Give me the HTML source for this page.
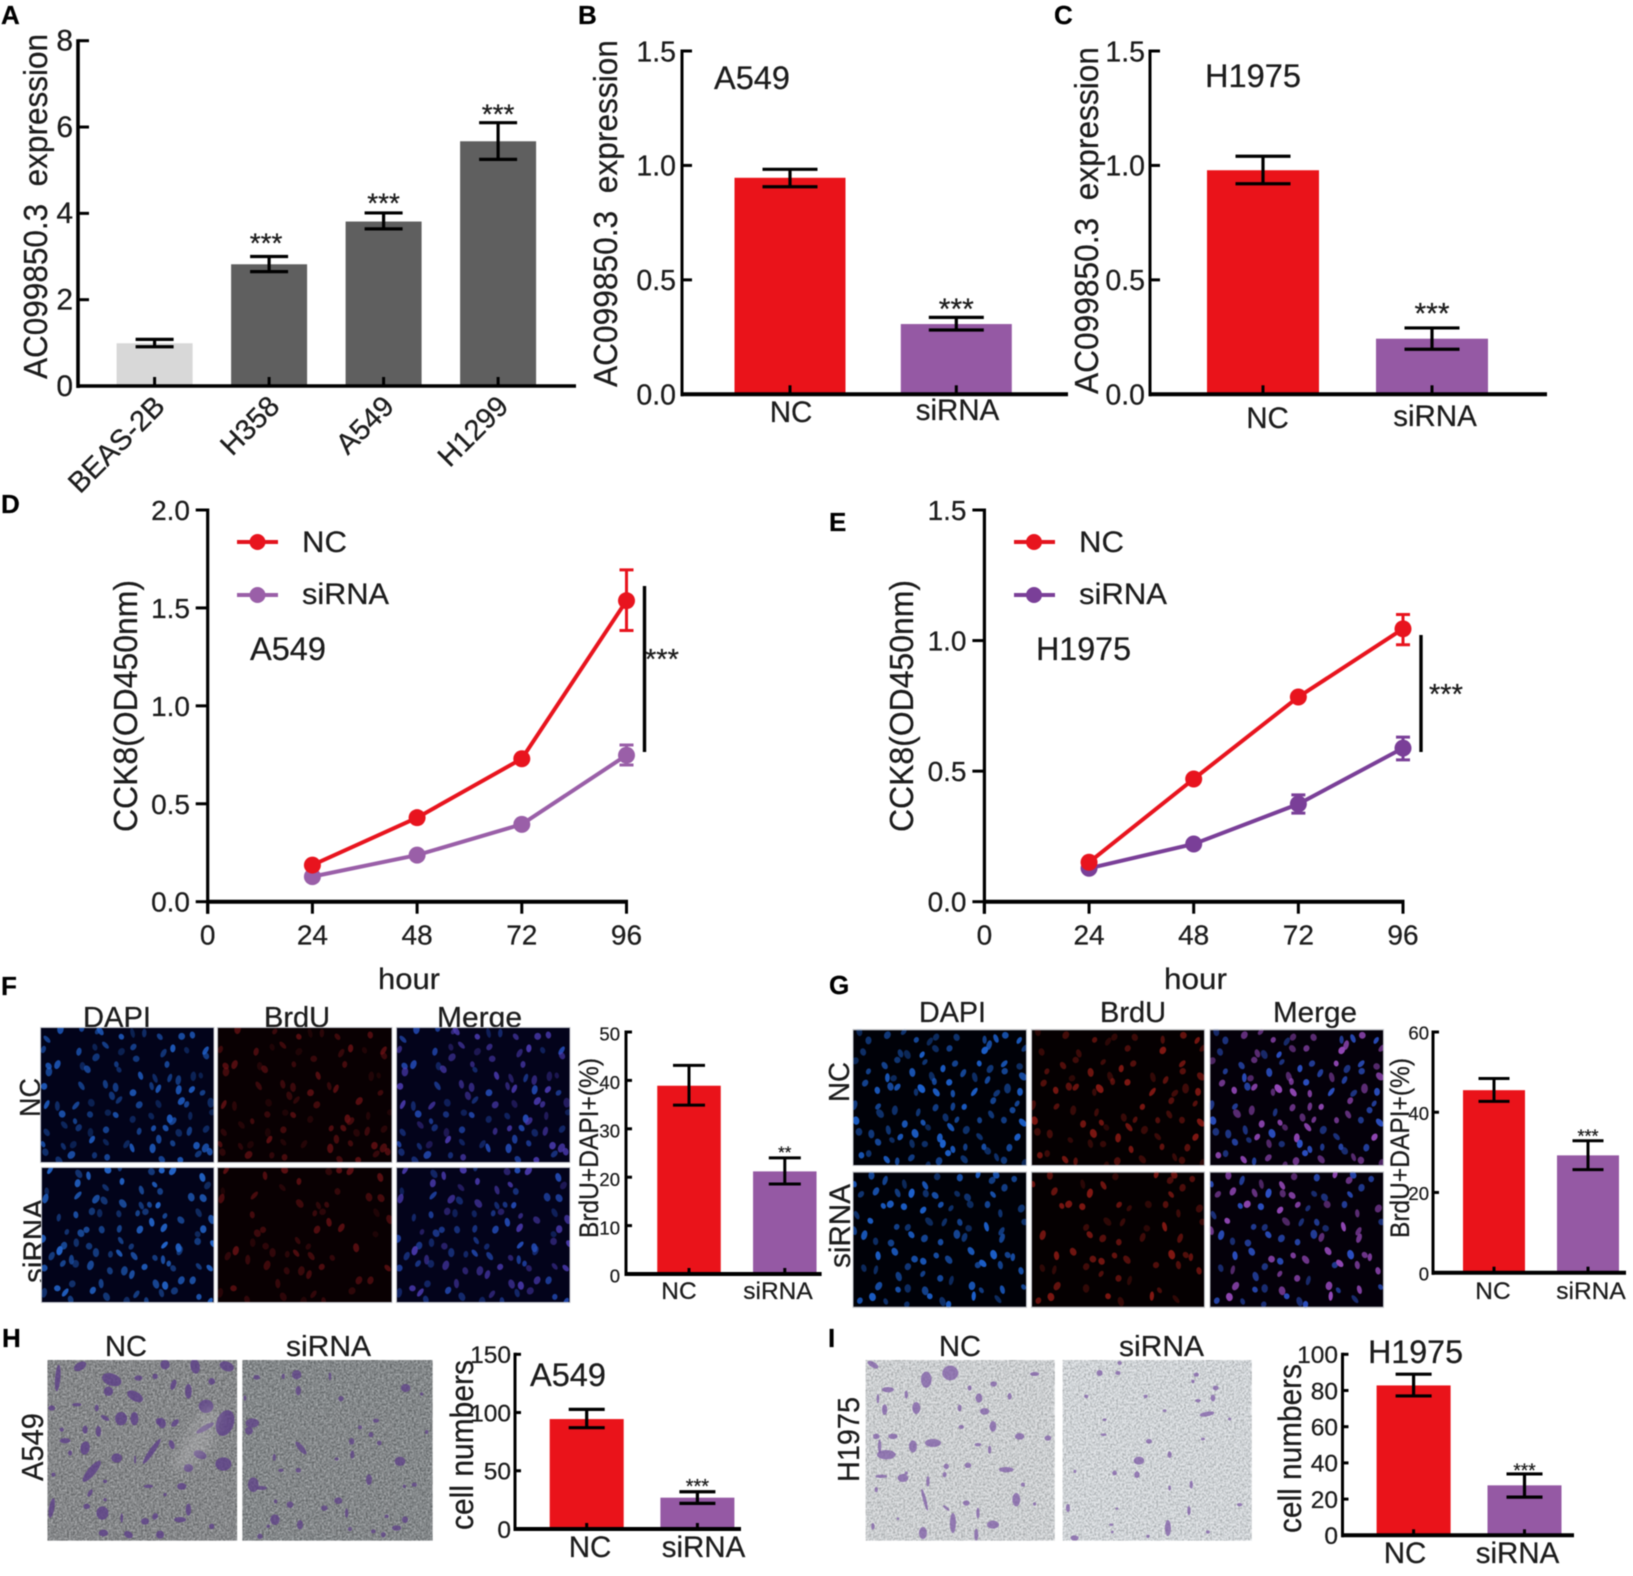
<!DOCTYPE html>
<html lang="en">
<head>
<meta charset="utf-8">
<title>AC099850.3 expression, CCK8, BrdU and transwell figure</title>
<style>
html,body{margin:0;padding:0;background:#fff;}
svg{display:block;}
text{font-family:"Liberation Sans",Arial,sans-serif;fill:#1c1c1c;stroke:#1c1c1c;stroke-width:0.25px;}
.pl{font-weight:bold;font-size:26px;fill:#000;stroke:#000;}
</style>
</head>
<body>
<svg xmlns="http://www.w3.org/2000/svg" width="1633" height="1576" viewBox="0 0 1633 1576">
<defs>
<filter id="grain-dark" x="0" y="0" width="100%" height="100%" color-interpolation-filters="sRGB">
<feTurbulence type="fractalNoise" baseFrequency="0.5" numOctaves="2" seed="4"/>
<feColorMatrix values="1.6 0 0 0 -0.26  1.6 0 0 0 -0.26  1.6 0 0 0 -0.26  0 0 0 0 1"/>
</filter>
<filter id="grain-light" x="0" y="0" width="100%" height="100%" color-interpolation-filters="sRGB">
<feTurbulence type="fractalNoise" baseFrequency="0.5" numOctaves="2" seed="9"/>
<feColorMatrix values="1.3 0 0 0 0.14  1.3 0 0 0 0.16  1.3 0 0 0 0.16  0 0 0 0 1"/>
</filter>
<filter id="patch-blur" x="-30%" y="-30%" width="160%" height="160%"><feGaussianBlur stdDeviation="6"/></filter>
</defs>
<rect width="1633" height="1576" fill="#fff"/>
<g id="root" style="filter:blur(0.45px)">

<g>
<text class="pl" x="1" y="24">A</text>
<text class="pl" x="578" y="24">B</text>
<text class="pl" x="1054" y="24">C</text>
<text class="pl" x="1" y="513">D</text>
<text class="pl" x="829" y="531">E</text>
<text class="pl" x="1" y="995">F</text>
<text class="pl" x="829" y="994">G</text>
<text class="pl" x="2" y="1347">H</text>
<text class="pl" x="828" y="1347">I</text>
</g>

<g>
<text transform="translate(47,379) rotate(-90)" font-size="33" textLength="345" lengthAdjust="spacingAndGlyphs" xml:space="preserve">AC099850.3  expression</text>
<text transform="translate(617,387) rotate(-90)" font-size="33" textLength="347" lengthAdjust="spacingAndGlyphs" xml:space="preserve">AC099850.3  expression</text>
<text transform="translate(1098,394) rotate(-90)" font-size="33" textLength="347" lengthAdjust="spacingAndGlyphs" xml:space="preserve">AC099850.3  expression</text>
<text transform="translate(137,832) rotate(-90)" font-size="33" textLength="252" lengthAdjust="spacingAndGlyphs">CCK8(OD450nm)</text>
<text transform="translate(913,832) rotate(-90)" font-size="33" textLength="252" lengthAdjust="spacingAndGlyphs">CCK8(OD450nm)</text>
<text x="378" y="989" font-size="30" textLength="62" lengthAdjust="spacingAndGlyphs">hour</text>
<text x="1164" y="989" font-size="30" textLength="63" lengthAdjust="spacingAndGlyphs">hour</text>
<text transform="translate(598,1238) rotate(-90)" font-size="27" textLength="180" lengthAdjust="spacingAndGlyphs">BrdU+DAPI+(%)</text>
<text transform="translate(1409,1238) rotate(-90)" font-size="27" textLength="180" lengthAdjust="spacingAndGlyphs">BrdU+DAPI+(%)</text>
<text transform="translate(473,1530) rotate(-90)" font-size="32" textLength="170" lengthAdjust="spacingAndGlyphs">cell numbers</text>
<text transform="translate(1301,1533) rotate(-90)" font-size="32" textLength="169" lengthAdjust="spacingAndGlyphs">cell numbers</text>
</g>

<g>
<text x="714" y="89" font-size="32" textLength="76" lengthAdjust="spacingAndGlyphs">A549</text>
<text x="1205" y="87" font-size="32" textLength="96" lengthAdjust="spacingAndGlyphs">H1975</text>
<text x="250" y="660" font-size="32" textLength="76" lengthAdjust="spacingAndGlyphs">A549</text>
<text x="1036" y="660" font-size="32" textLength="95" lengthAdjust="spacingAndGlyphs">H1975</text>
<text x="530" y="1386" font-size="32" textLength="76" lengthAdjust="spacingAndGlyphs">A549</text>
<text x="1368" y="1363" font-size="32" textLength="95" lengthAdjust="spacingAndGlyphs">H1975</text>
</g>

<g>
<g><line x1="237" x2="278" y1="542" y2="542" stroke="#e3141e" stroke-width="4"/><circle cx="257.5" cy="542" r="8" fill="#e8141e"/><text x="302" y="552" font-size="30" textLength="45" lengthAdjust="spacingAndGlyphs">NC</text></g>
<g><line x1="237" x2="278" y1="595" y2="595" stroke="#9a5fa8" stroke-width="4"/><circle cx="257.5" cy="595" r="8" fill="#9a5fa8"/><text x="302" y="604" font-size="30" textLength="87" lengthAdjust="spacingAndGlyphs">siRNA</text></g>
</g>
<g>
<g><line x1="1014" x2="1055" y1="542" y2="542" stroke="#e3141e" stroke-width="4"/><circle cx="1034" cy="542" r="8" fill="#e8141e"/><text x="1079" y="552" font-size="30" textLength="45" lengthAdjust="spacingAndGlyphs">NC</text></g>
<g><line x1="1014" x2="1055" y1="595" y2="595" stroke="#7a3f98" stroke-width="4"/><circle cx="1034" cy="595" r="8" fill="#7a3f98"/><text x="1079" y="604" font-size="30" textLength="88" lengthAdjust="spacingAndGlyphs">siRNA</text></g>
</g>

<g>
<line x1="644.5" x2="644.5" y1="586" y2="752" stroke="#000" stroke-width="3.4"/>
<text x="645" y="669" font-size="29">***</text>
<line x1="1421" x2="1421" y1="635" y2="752" stroke="#000" stroke-width="3.4"/>
<text x="1429" y="704" font-size="29">***</text>
</g>

<g>
<text x="83" y="1027" font-size="29" textLength="68" lengthAdjust="spacingAndGlyphs">DAPI</text>
<text x="264" y="1027" font-size="29" textLength="66" lengthAdjust="spacingAndGlyphs">BrdU</text>
<text x="437" y="1027" font-size="29" textLength="85" lengthAdjust="spacingAndGlyphs">Merge</text>
<text transform="translate(40,1117) rotate(-90)" font-size="29" textLength="39" lengthAdjust="spacingAndGlyphs">NC</text>
<text transform="translate(44,1283) rotate(-90)" font-size="30" textLength="84" lengthAdjust="spacingAndGlyphs">siRNA</text>
<text x="919" y="1022" font-size="29" textLength="67" lengthAdjust="spacingAndGlyphs">DAPI</text>
<text x="1100" y="1022" font-size="29" textLength="66" lengthAdjust="spacingAndGlyphs">BrdU</text>
<text x="1273" y="1022" font-size="29" textLength="84" lengthAdjust="spacingAndGlyphs">Merge</text>
<text transform="translate(849,1102) rotate(-90)" font-size="29" textLength="40" lengthAdjust="spacingAndGlyphs">NC</text>
<text transform="translate(850,1268) rotate(-90)" font-size="30" textLength="84" lengthAdjust="spacingAndGlyphs">siRNA</text>
<text x="105" y="1356" font-size="29" textLength="42" lengthAdjust="spacingAndGlyphs">NC</text>
<text x="286" y="1356" font-size="29" textLength="85" lengthAdjust="spacingAndGlyphs">siRNA</text>
<text transform="translate(43,1481) rotate(-90)" font-size="31" textLength="68" lengthAdjust="spacingAndGlyphs">A549</text>
<text x="939" y="1356" font-size="29" textLength="42" lengthAdjust="spacingAndGlyphs">NC</text>
<text x="1119" y="1356" font-size="29" textLength="85" lengthAdjust="spacingAndGlyphs">siRNA</text>
<text transform="translate(859,1482) rotate(-90)" font-size="31" textLength="85" lengthAdjust="spacingAndGlyphs">H1975</text>
</g>

<g id="micrographs"></g>
<g id="charts"></g>
</g>
</svg>

<script>
/* ---------- Panel A ---------- */
const aCategories = ['BEAS-2B', 'H358', 'A549', 'H1299'];
const aValues = [0.99, 2.82, 3.81, 5.67];
const aErrHigh = [1.08, 3.0, 4.01, 6.1];
const aErrLow = [0.91, 2.65, 3.64, 5.25];
const aStars = ['', '***', '***', '***'];
const aTickLabels = ['0', '2', '4', '6', '8'];
/* ---------- Panel B ---------- */
const bCategories = ['NC', 'siRNA'];
const bValues = [0.946, 0.307];
const bErrHigh = [0.983, 0.336];
const bErrLow = [0.907, 0.281];
const bStars = ['', '***'];
const bTickLabels = ['0.0', '0.5', '1.0', '1.5'];
/* ---------- Panel C ---------- */
const cCategories = ['NC', 'siRNA'];
const cValues = [0.979, 0.243];
const cErrHigh = [1.04, 0.29];
const cErrLow = [0.92, 0.197];
const cStars = ['', '***'];
const cTickLabels = ['0.0', '0.5', '1.0', '1.5'];
/* ---------- Panel D ---------- */
const dHours = ['24', '48', '72', '96'];
const dTickLabelsX = ['0', '24', '48', '72', '96'];
const dTickLabelsY = ['0.0', '0.5', '1.0', '1.5', '2.0'];
const dNc = [0.187, 0.429, 0.73, 1.537];
const dNcHigh = [0.19, 0.432, 0.733, 1.694];
const dNcLow = [0.184, 0.426, 0.727, 1.385];
const dSirna = [0.128, 0.238, 0.395, 0.748];
const dSirnaHigh = [0.131, 0.241, 0.398, 0.8];
const dSirnaLow = [0.125, 0.235, 0.392, 0.698];
/* ---------- Panel E ---------- */
const eHours = ['24', '48', '72', '96'];
const eTickLabelsX = ['0', '24', '48', '72', '96'];
const eTickLabelsY = ['0.0', '0.5', '1.0', '1.5'];
const eNc = [0.151, 0.47, 0.784, 1.045];
const eNcHigh = [0.154, 0.473, 0.787, 1.1];
const eNcLow = [0.148, 0.467, 0.781, 0.984];
const eSirna = [0.128, 0.221, 0.374, 0.588];
const eSirnaHigh = [0.131, 0.224, 0.409, 0.63];
const eSirnaLow = [0.125, 0.218, 0.339, 0.543];
/* ---------- Panel F ---------- */
const fCategories = ['NC', 'siRNA'];
const fValues = [38.9, 21.2];
const fErrHigh = [43.1, 24];
const fErrLow = [34.9, 18.6];
const fStars = ['', '**'];
const fTickLabels = ['0', '10', '20', '30', '40', '50'];
/* ---------- Panel G ---------- */
const gCategories = ['NC', 'siRNA'];
const gValues = [45.5, 29.25];
const gErrHigh = [48.4, 32.9];
const gErrLow = [42.7, 25.7];
const gStars = ['', '***'];
const gTickLabels = ['0', '20', '40', '60'];
/* ---------- Panel H ---------- */
const hCategories = ['NC', 'siRNA'];
const hValues = [94.4, 26.9];
const hErrHigh = [102.7, 32];
const hErrLow = [87, 22];
const hStars = ['', '***'];
const hTickLabels = ['0', '50', '100', '150'];
/* ---------- Panel I ---------- */
const iCategories = ['NC', 'siRNA'];
const iValues = [82.8, 27.6];
const iErrHigh = [89, 33.9];
const iErrLow = [77, 21.1];
const iStars = ['', '***'];
const iTickLabels = ['0', '20', '40', '60', '80', '100'];

const NS = 'http://www.w3.org/2000/svg';
function mk(tag, parent, geom) {
  const el = document.createElementNS(NS, tag);
  for (const k in geom) el.setAttribute(k, geom[k]);
  parent.appendChild(el);
  return el;
}
function mkLine(parent, x1, y1, x2, y2, color, w) {
  return mk('line', parent, { x1: x1, y1: y1, x2: x2, y2: y2, stroke: color, 'stroke-width': w });
}
function mkText(parent, str, x, y, size, anchor) {
  const t = mk('text', parent, { x: x, y: y, 'font-size': size, 'text-anchor': anchor });
  t.textContent = str;
  return t;
}

function drawBarChart(name, cats, vals, hi, lo, stars, ticks, L) {
  const host = document.getElementById('charts');
  const g = mk('g', host, {});
  
  
  const maxV = Number(ticks[ticks.length - 1]);
  const yScale = v => L.base - (v / maxV) * (L.base - L.top);
  const xScale = i => L.firstX + i * L.stepX;

  cats.forEach((c, i) => {
    const col = L.colors[i];
    const r = mk('rect', g, { x: xScale(i) - L.barW / 2, y: yScale(vals[i]), width: L.barW, height: L.base - yScale(vals[i]), fill: col });
    
    

    const stem = mkLine(g, xScale(i), yScale(hi[i]), xScale(i), yScale(lo[i]), '#000', L.errW);
    
    
    const capTop = mkLine(g, xScale(i) - L.capW / 2, yScale(hi[i]), xScale(i) + L.capW / 2, yScale(hi[i]), '#000', L.errW);
    
    
    const capLow = mkLine(g, xScale(i) - L.capW / 2, yScale(lo[i]), xScale(i) + L.capW / 2, yScale(lo[i]), '#000', L.errW);
    
    

    const tick = mkLine(g, xScale(i), L.base, xScale(i), L.base - L.tickXIn, '#000', 3);
    
    

    if (stars[i]) {
      const s = mkText(g, stars[i], xScale(i) + (L.starDx ? L.starDx[i] : 0), yScale(hi[i]) - L.starGap[i] + 0.42 * L.starFont, L.starFont, 'middle');
      
      
    }

    let lab;
    if (L.rotateCats) {
      lab = mkText(g, c, 0, 0, L.catFont, 'end');
      lab.setAttribute('transform', 'translate(' + (xScale(i) + L.catDx) + ',' + L.catY[i] + ') rotate(-45)');
    } else {
      lab = mkText(g, c, L.catX[i], L.catY[i], L.catFont, 'middle');
    }
    
    
  });

  const yAxis = mkLine(g, L.axisX, L.top - 1.5, L.axisX, L.base + 2, '#000', L.axisW);
  
  
  const xAxis = mkLine(g, L.axisX - 1, L.base, L.xEnd, L.base, '#000', L.baseW);
  
  

  ticks.forEach(t => {
    const v = Number(t);
    const tl = mkLine(g, L.axisX, yScale(v), L.axisX + L.tickYIn, yScale(v), '#000', 3);
    
    
    const lb = mkText(g, t, L.labelRight, yScale(v) + 0.36 * L.tickFont + (L.labelDy || 0), L.tickFont, 'end');
    
    
  });
}

function drawLineChart(name, hours, xLabels, yLabels, series, L) {
  const host = document.getElementById('charts');
  const g = mk('g', host, {});
  
  
  const maxY = Number(yLabels[yLabels.length - 1]);
  const maxX = Number(xLabels[xLabels.length - 1]);
  const yScale = v => L.base - (v / maxY) * (L.base - L.top);
  const xScale = h => L.axisX + (h / maxX) * (L.xEnd - L.axisX);

  series.forEach(s => {
    const poly = mk('polyline', g, { fill: 'none', stroke: s.color, 'stroke-width': 4,
      points: hours.map((h, i) => xScale(Number(h)) + ',' + yScale(s.vals[i])).join(' ') });
    
    
    hours.forEach((h, i) => {
      const x = xScale(Number(h));
      const err = mk('path', g, { fill: 'none', stroke: s.color, 'stroke-width': 3,
        d: 'M' + (x - 7) + ' ' + yScale(s.hi[i]) + 'H' + (x + 7) + 'M' + x + ' ' + yScale(s.hi[i]) + 'V' + yScale(s.lo[i]) + 'M' + (x - 7) + ' ' + yScale(s.lo[i]) + 'H' + (x + 7) });
      
      
      const p = mk('circle', g, { cx: x, cy: yScale(s.vals[i]), r: 8.5, fill: s.color });
      
      
    });
  });

  const yAxis = mkLine(g, L.axisX, L.top - 1.5, L.axisX, L.base + 12, '#000', 3.2);
  
  
  const xAxis = mkLine(g, L.axisX, L.base, L.xEnd + 1.5, L.base, '#000', 4);
  
  

  yLabels.forEach(t => {
    const v = Number(t);
    const tick = mkLine(g, L.axisX - 12, yScale(v), L.axisX, yScale(v), '#000', 3);
    
    
    const lb = mkText(g, t, L.labelRight, yScale(v) + 10, 28, 'end');
    
    
  });
  xLabels.forEach(t => {
    const x = xScale(Number(t));
    const tick = mkLine(g, x, L.base, x, L.base + 12, '#000', 3);
    
    
    const lb = mkText(g, t, x, L.tickBaseline, 28, 'middle');
    
    
  });
}

const RED = '#ea131a';
const PURPLE = '#9559a4';

drawBarChart('panel-a-bar-chart', aCategories, aValues, aErrHigh, aErrLow, aStars, aTickLabels, {
  axisX: 78, top: 40.7, base: 386, xEnd: 576, firstX: 154.6, stepX: 114.5, barW: 76, capW: 38, errW: 3.2,
  axisW: 3.6, baseW: 3.6, tickYIn: 11, tickXIn: 9, labelRight: 73, tickFont: 30, labelDy: -1, colors: ['#d8d8d8', '#5f5f5f', '#5f5f5f', '#5f5f5f'],
  starFont: 28, starGap: [0, 16, 12, 11], starDx: [0, -3, 0, 0], rotateCats: true, catDx: 12, catY: [408, 408, 408, 408], catFont: 29
});
drawBarChart('panel-b-bar-chart', bCategories, bValues, bErrHigh, bErrLow, bStars, bTickLabels, {
  axisX: 682, top: 51, base: 394.3, xEnd: 1068, firstX: 790, stepX: 166.3, barW: 111, capW: 55, errW: 3.2,
  axisW: 3, baseW: 4, tickYIn: 10, tickXIn: 9, labelRight: 676, tickFont: 28.5, colors: [RED, PURPLE],
  starFont: 30, starGap: [0, 11], catX: [791, 957.5], catY: [422, 420], catFont: 29.5
});
drawBarChart('panel-c-bar-chart', cCategories, cValues, cErrHigh, cErrLow, cStars, cTickLabels, {
  axisX: 1150, top: 51, base: 394.3, xEnd: 1547, firstX: 1263, stepX: 169, barW: 112, capW: 55, errW: 3.2,
  axisW: 3, baseW: 4, tickYIn: 10, tickXIn: 9, labelRight: 1145, tickFont: 28.5, colors: [RED, PURPLE],
  starFont: 30, starGap: [0, 17], catX: [1267.5, 1435], catY: [428, 426], catFont: 29.5
});

drawLineChart('panel-d-line-chart', dHours, dTickLabelsX, dTickLabelsY, [
  { id: 'sirna', color: '#9a5fa8', vals: dSirna, hi: dSirnaHigh, lo: dSirnaLow },
  { id: 'nc', color: '#e8141e', vals: dNc, hi: dNcHigh, lo: dNcLow }
], { axisX: 207.7, top: 510, base: 901.7, xEnd: 626.5, labelRight: 190, tickBaseline: 944.5 });
drawLineChart('panel-e-line-chart', eHours, eTickLabelsX, eTickLabelsY, [
  { id: 'sirna', color: '#7a3f98', vals: eSirna, hi: eSirnaHigh, lo: eSirnaLow },
  { id: 'nc', color: '#e8141e', vals: eNc, hi: eNcHigh, lo: eNcLow }
], { axisX: 984.4, top: 510, base: 901.7, xEnd: 1403, labelRight: 966.5, tickBaseline: 944.5 });

drawBarChart('panel-f-bar-chart', fCategories, fValues, fErrHigh, fErrLow, fStars, fTickLabels, {
  axisX: 626, top: 1032, base: 1274, xEnd: 821.6, firstX: 689, stepX: 95.8, barW: 63.5, capW: 32, errW: 3,
  axisW: 3, baseW: 4, tickYIn: 6, tickXIn: 6, labelRight: 620, tickFont: 18.5, labelDy: 2, colors: [RED, PURPLE],
  starFont: 17, starGap: [0, 7], catX: [679, 778], catY: [1299, 1299], catFont: 24.5
});
drawBarChart('panel-g-bar-chart', gCategories, gValues, gErrHigh, gErrLow, gStars, gTickLabels, {
  axisX: 1433, top: 1032, base: 1272.7, xEnd: 1626, firstX: 1494, stepX: 94, barW: 62, capW: 31, errW: 3,
  axisW: 3, baseW: 4, tickYIn: 6, tickXIn: 6, labelRight: 1429, tickFont: 18.5, labelDy: 1, colors: [RED, PURPLE],
  starFont: 18, starGap: [0, 6], catX: [1493, 1591], catY: [1299, 1299], catFont: 24.5
});
drawBarChart('panel-h-bar-chart', hCategories, hValues, hErrHigh, hErrLow, hStars, hTickLabels, {
  axisX: 515, top: 1354.3, base: 1529, xEnd: 741, firstX: 586.7, stepX: 110.7, barW: 74, capW: 36, errW: 3.2,
  axisW: 3, baseW: 4, tickYIn: 6, tickXIn: 6, labelRight: 511, tickFont: 24.5, colors: [RED, PURPLE],
  starFont: 20, starGap: [0, 7], catX: [590, 703.5], catY: [1557, 1557], catFont: 29.5
});
drawBarChart('panel-i-bar-chart', iCategories, iValues, iErrHigh, iErrLow, iStars, iTickLabels, {
  axisX: 1342.5, top: 1354.3, base: 1535.3, xEnd: 1574, firstX: 1413.6, stepX: 110.9, barW: 74, capW: 36, errW: 3.2,
  axisW: 3, baseW: 4, tickYIn: 6, tickXIn: 6, labelRight: 1338, tickFont: 24.5, colors: [RED, PURPLE],
  starFont: 19, starGap: [0, 5], catX: [1405, 1517.5], catY: [1563, 1563], catFont: 29.5
});
</script>

<script>
/* Decorative micrograph artwork only: photographic panels, not chart data. */
(function () {
  const NS2 = 'http://www.w3.org/2000/svg';
  function el(tag, parent, geom) {
    const e = document.createElementNS(NS2, tag);
    for (const k in geom) e.setAttribute(k, geom[k]);
    parent.appendChild(e);
    return e;
  }
  function hashNoise(seed) {
    let s = seed >>> 0;
    return function () {
      s = (s * 1664525 + 1013904223) >>> 0;
      return ((s >>> 8) & 65535) / 65535;
    };
  }
  function makeFrame(name, x, y, w, h) {
    const host = document.getElementById('micrographs');
    const frame = el('svg', host, { x: x, y: y, width: w, height: h, viewBox: '0 0 ' + w + ' ' + h });
    
    
    return frame;
  }
  function border(f, w, h) {
    el('rect', f, { x: 0.5, y: 0.5, width: w - 1, height: h - 1, fill: 'none', stroke: '#c4c6cc', 'stroke-width': 1 });
  }
  function fluorescence(name, x, y, w, h, bg, colorA, colorB, mixB, seed, count, keepFrac, minOp, maxOp) {
    const f = makeFrame(name, x, y, w, h);
    el('rect', f, { width: w, height: h, fill: bg });
    const rnd = hashNoise(seed);
    const cols = Math.round(Math.sqrt(count * w / h));
    const rows = Math.round(count / cols);
    for (let r = 0; r < rows; r++) {
      for (let c = 0; c < cols; c++) {
        const cx = (c + 0.5 + (rnd() - 0.5) * 0.9) * w / cols;
        const cy = (r + 0.5 + (rnd() - 0.5) * 0.9) * h / rows;
        const rx = 2.1 + rnd() * 1.3;
        const ry = 3.0 + rnd() * 2.0;
        const ang = (rnd() - 0.5) * 90;
        const op = minOp + rnd() * (maxOp - minOp);
        const pick = rnd();
        const keep = rnd();
        if (keep > keepFrac) continue;
        el('ellipse', f, { cx: cx, cy: cy, rx: rx, ry: ry, fill: pick < mixB ? colorB : colorA, opacity: op,
          transform: 'rotate(' + ang + ' ' + cx + ' ' + cy + ')' });
      }
    }
    border(f, w, h);
  }
  function transwell(name, x, y, w, h, grainId, tint, noiseOp, cellColor, blobOp, ox, oy, blobs) {
    const f = makeFrame(name, x, y, w, h);
    el('rect', f, { width: w, height: h, fill: tint });
    el('rect', f, { width: w, height: h, filter: 'url(#' + grainId + ')', opacity: noiseOp });
    blobs.forEach(b => {
      const cx = (b[0] - ox) / 3;
      const cy = (b[1] - oy) / 3;
      const a = b[4] || 0;
      el('ellipse', f, { cx: cx, cy: cy, rx: b[2] / 3, ry: b[3] / 3, fill: cellColor, opacity: blobOp,
        transform: 'rotate(' + a + ' ' + cx + ' ' + cy + ')' });
    });
    return f;
  }

  fluorescence('panel-f-nc-dapi-image', 40, 1027, 174.5, 136, '#02031a', '#2060c8', '#2060c8', 0, 71, 120, 0.85, 0.3, 0.9);
  fluorescence('panel-f-nc-brdu-image', 217, 1027, 175.5, 136, '#090002', '#701216', '#701216', 0, 71, 120, 0.6, 0.2, 0.8);
  fluorescence('panel-f-nc-merge-image', 396, 1027, 174.5, 136, '#03031b', '#2650c0', '#4d3cb4', 0.45, 71, 120, 0.85, 0.35, 0.9);
  fluorescence('panel-f-sirna-dapi-image', 41, 1167, 173.5, 136, '#02031a', '#2468d0', '#2468d0', 0, 113, 120, 0.85, 0.35, 0.95);
  fluorescence('panel-f-sirna-brdu-image', 217, 1167, 175.5, 136, '#090002', '#701216', '#701216', 0, 113, 120, 0.5, 0.2, 0.8);
  fluorescence('panel-f-sirna-merge-image', 396, 1167, 174.5, 136, '#03031b', '#2650c0', '#4d3cb4', 0.4, 113, 120, 0.85, 0.35, 0.9);

  fluorescence('panel-g-nc-dapi-image', 852.5, 1029.3, 174.5, 136.7, '#000108', '#1c60cc', '#1c60cc', 0, 31, 130, 0.85, 0.4, 1);
  fluorescence('panel-g-nc-brdu-image', 1031, 1029.3, 174, 136.7, '#050001', '#9a1c16', '#9a1c16', 0, 31, 130, 0.7, 0.25, 0.85);
  fluorescence('panel-g-nc-merge-image', 1209.4, 1029.3, 174.6, 136.7, '#04000a', '#2c50c4', '#9448b8', 0.5, 31, 130, 0.85, 0.5, 1);
  fluorescence('panel-g-sirna-dapi-image', 852.5, 1171.7, 174.5, 136, '#000108', '#1c60cc', '#1c60cc', 0, 57, 100, 0.85, 0.4, 1);
  fluorescence('panel-g-sirna-brdu-image', 1031, 1171.7, 174, 136, '#050001', '#9a1c16', '#9a1c16', 0, 57, 100, 0.6, 0.25, 0.85);
  fluorescence('panel-g-sirna-merge-image', 1209.4, 1171.7, 174.6, 136, '#04000a', '#2c50c4', '#9448b8', 0.5, 57, 100, 0.85, 0.5, 1);

  const hNcFrame = transwell('panel-h-nc-transwell-image', 47.4, 1360, 189.8, 180.7, 'grain-dark', '#84878a', 0.3, '#5d3f88', 0.8, 7, 6, [
    [38,60,8,40,5],[105,25,20,12,-30],[200,65,30,18,20],[190,100,14,14],[270,115,26,14,30],[228,182,18,20],[268,182,12,20],[180,180,14,6,30],[350,195,12,16,-20],[390,195,14,8,-45],[360,20,14,14],[450,25,14,22,-10],[545,25,22,14,20],[430,100,10,22],[483,145,22,20],[540,195,26,40,20],[480,210,30,8,-30],[320,280,8,45,35],[215,300,16,14],[140,340,12,40,40],[120,270,14,20,10],[60,248,16,8],[465,290,20,12,20],[535,318,24,20],[430,330,14,12],[410,385,14,10],[172,465,18,20],[20,450,8,30,10],[430,455,8,18],[405,485,18,8],[300,490,12,10],[345,530,12,12],[250,530,14,10,30],[175,525,14,10],[125,445,10,8],[95,140,14,5],[20,150,10,8],[160,220,8,16],[280,60,12,8],[330,55,8,8],[385,80,8,16,20],[500,70,10,10],[155,150,6,10],[50,215,6,6],[120,215,8,12],[380,260,8,14,-20],[340,190,8,10],[310,385,14,5],[230,480,4,14],[330,475,8,10,30],[360,410,5,5],[180,370,6,5],[180,425,5,5],[270,305,3,12],[25,350,6,6],[135,405,6,12,30],[75,285,6,8],[500,505,8,8]
  ]);
  const hPatch = el('polygon', hNcFrame, { points: '160,45 172,50 160,90 135,112 125,105', fill: '#c8c6c8', opacity: 0.35, filter: 'url(#patch-blur)' });
  
  

  transwell('panel-h-sirna-transwell-image', 242.3, 1360, 190.4, 180.7, 'grain-dark', '#82878a', 0.3, '#5d3f88', 0.75, 592, 6, [
    [635,58,10,7],[755,50,14,14],[855,55,4,12],[760,98,8,14],[1082,90,14,12],[888,122,8,8],[622,195,20,14],[612,218,12,12],[993,188,9,6],[945,208,6,6],[978,230,7,8],[920,250,8,10],[1003,255,7,7],[768,270,8,24,-40],[688,298,5,10],[922,290,6,12],[875,303,6,5],[1065,310,16,14],[760,337,8,7],[708,337,8,5],[972,365,9,16],[1108,380,8,6],[1078,385,5,5],[625,380,16,22],[650,390,16,6],[880,428,12,10],[735,440,10,10],[838,450,10,8],[905,465,5,14],[690,485,14,16],[765,500,9,14],[1080,485,9,10],[1055,510,14,8],[915,513,6,6],[985,520,7,6],[1015,530,7,8],[670,505,5,5],[645,535,8,8],[692,430,5,6],[1025,475,6,5],[1145,222,5,6],[1130,108,5,5],[715,55,5,8],[600,120,4,8]
  ]);
  transwell('panel-i-nc-transwell-image', 865.6, 1360, 189.2, 180.7, 'grain-light', '#cbced0', 0.38, '#7a56a4', 0.72, 8, 6, [
    [30,20,18,8,30],[190,65,16,24],[262,45,24,22],[515,48,14,6],[392,78,10,8],[75,95,18,8],[130,110,5,12],[45,122,4,14],[348,120,10,14],[160,150,12,18],[65,155,8,16],[290,150,6,10],[365,160,14,10],[390,205,10,16],[295,207,8,6],[90,235,14,8],[40,235,10,8],[70,290,28,14],[50,265,5,20],[150,265,12,18],[210,255,24,12],[470,235,14,10],[555,240,10,8],[380,275,5,12],[345,260,10,5],[315,322,10,8],[245,350,6,8],[430,335,22,8],[120,360,16,12],[55,355,18,5],[185,425,5,34,-15],[195,370,5,16],[460,425,12,20],[270,495,9,30],[390,500,18,12],[340,530,6,18],[180,525,12,18],[345,465,5,16],[310,435,10,8],[250,450,12,4,40],[515,438,5,5],[480,380,6,6],[40,395,5,8],[30,505,5,10],[105,482,4,4],[440,115,6,10],[320,90,6,8],[250,325,8,8],[130,345,5,5]
  ]);
  transwell('panel-i-sirna-transwell-image', 1062.6, 1360, 189.2, 180.7, 'grain-light', '#d2d6da', 0.38, '#7a56a4', 0.72, 599, 6, [
    [710,45,9,9],[770,15,6,6],[765,45,8,6],[1000,50,8,6],[990,70,5,5],[1058,90,9,7],[1050,120,7,10],[1005,128,8,5],[1032,168,22,7,-10],[670,115,6,5],[848,115,6,5],[905,158,6,4],[725,185,6,4],[722,230,9,4],[858,250,9,7],[1020,243,6,4],[828,308,16,12],[822,350,8,10],[755,345,7,7],[636,340,4,5],[985,380,5,12],[920,390,4,8],[1130,440,8,5],[978,458,5,14],[915,510,9,24],[762,452,4,4],[615,450,6,12],[745,500,6,4],[748,522,4,4],[635,540,12,8],[1035,522,6,5],[855,535,5,5],[1100,183,5,4],[920,290,6,10]
  ]);
})();
</script>
</body>
</html>
